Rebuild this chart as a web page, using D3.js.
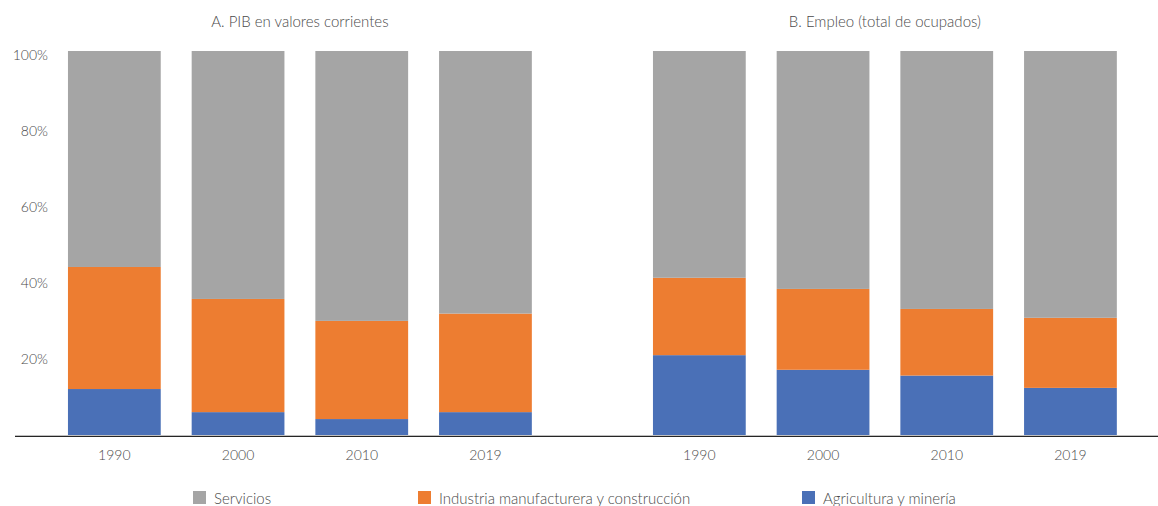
<!DOCTYPE html>
<html><head><meta charset="utf-8">
<script src="https://cdn.jsdelivr.net/npm/d3@7"></script>
<style>
html,body{margin:0;padding:0;background:#fff;overflow:hidden}
text{font-family:"Source Sans Pro","Lato","Open Sans",sans-serif;fill:#4a4a4a}
</style></head><body>
<svg id="c" width="1158" height="506"></svg>
<script>
const years = ["1990","2000","2010","2019"];
const panels = ["A. PIB en valores corrientes","B. Empleo (total de ocupados)"];
const seriesNames = ["Agricultura y minería","Industria manufacturera y construcción","Servicios"];
const seriesColors = ["#4A70B7","#ED7D31","#A5A5A5"];
// Panel A: PIB
const pibAgri = [12.2, 6.2, 4.4, 6.2];
const pibInd  = [31.7, 29.4, 25.5, 25.6];
const pibServ = [56.1, 64.4, 70.1, 68.2];
// Panel B: Empleo
const empAgri = [21.0, 17.2, 15.7, 12.5];
const empInd  = [20.1, 21.0, 17.3, 18.2];
const empServ = [58.9, 61.8, 67.0, 69.3];
const yTicks = [20, 40, 60, 80, 100];

const svg = d3.select("#c");
const y = d3.scaleLinear().domain([0,100]).range([436,51]);
const yLab = d3.scaleLinear().domain([0,100]).range([435,55]);
const FONT = '"Source Sans Pro","Lato","Open Sans",sans-serif';

function panel(title, agri, ind, serv, x0, x1){
  const x = d3.scaleBand().domain(years).range([x0,x1]).paddingInner(0.25).paddingOuter(0.125);
  const rows = years.map((yr,i)=>({year:yr, a:agri[i], i:ind[i], s:serv[i]}));
  const stack = d3.stack().keys(["a","i","s"])(rows);
  const g = svg.append("g");
  stack.forEach((layer,k)=>{
    g.selectAll(null).data(layer).enter().append("rect")
      .attr("x", d=>x(d.data.year))
      .attr("width", x.bandwidth())
      .attr("y", d=>y(d[1]))
      .attr("height", d=>y(d[0])-y(d[1]))
      .attr("fill", seriesColors[k]);
  });
  g.append("text").attr("x",(x0+x1)/2).attr("y",27).attr("text-anchor","middle")
    .style("font-size","15px").style("font-weight","300").text(title);
  const ax = g.append("g").attr("transform","translate(0,436)")
    .call(d3.axisBottom(x).tickSize(0).tickPadding(14));
  ax.select(".domain").remove();
  ax.selectAll("text").style("font-size","14px").style("font-weight","300").attr("fill","#4a4a4a")
    .style("font-family",FONT);
}
panel(panels[0], pibAgri, pibInd, pibServ, 52.5, 547.3);
panel(panels[1], empAgri, empInd, empServ, 637.5, 1132.3);

// Y axis labels
const yax = svg.append("g").attr("transform","translate(48,0)")
  .call(d3.axisLeft(yLab).tickValues(yTicks).tickFormat(d=>d+"%").tickSize(0).tickPadding(0));
yax.select(".domain").remove();
yax.selectAll("text").attr("dy","0.35em").style("font-size","14px").style("font-weight","300").attr("fill","#4a4a4a")
  .style("font-family",FONT);

// baseline
svg.append("line").attr("x1",15).attr("x2",1158).attr("y1",435.5).attr("y2",435.5)
  .attr("stroke","#bfbfbf").attr("stroke-width",1);
svg.append("line").attr("x1",15).attr("x2",1158).attr("y1",436.5).attr("y2",436.5)
  .attr("stroke","#262626").attr("stroke-width",1);

// legend
const legendOrder = [2,1,0];
const legendX = [193, 418, 802];
const lg = svg.append("g");
legendOrder.forEach((k,j)=>{
  lg.append("rect").attr("x",legendX[j]).attr("y",491).attr("width",13).attr("height",13).attr("fill",seriesColors[k]);
  lg.append("text").attr("x",legendX[j]+21).attr("y",504).style("font-size","15px").style("font-weight","300").text(seriesNames[k]);
});
</script>
</body></html>
